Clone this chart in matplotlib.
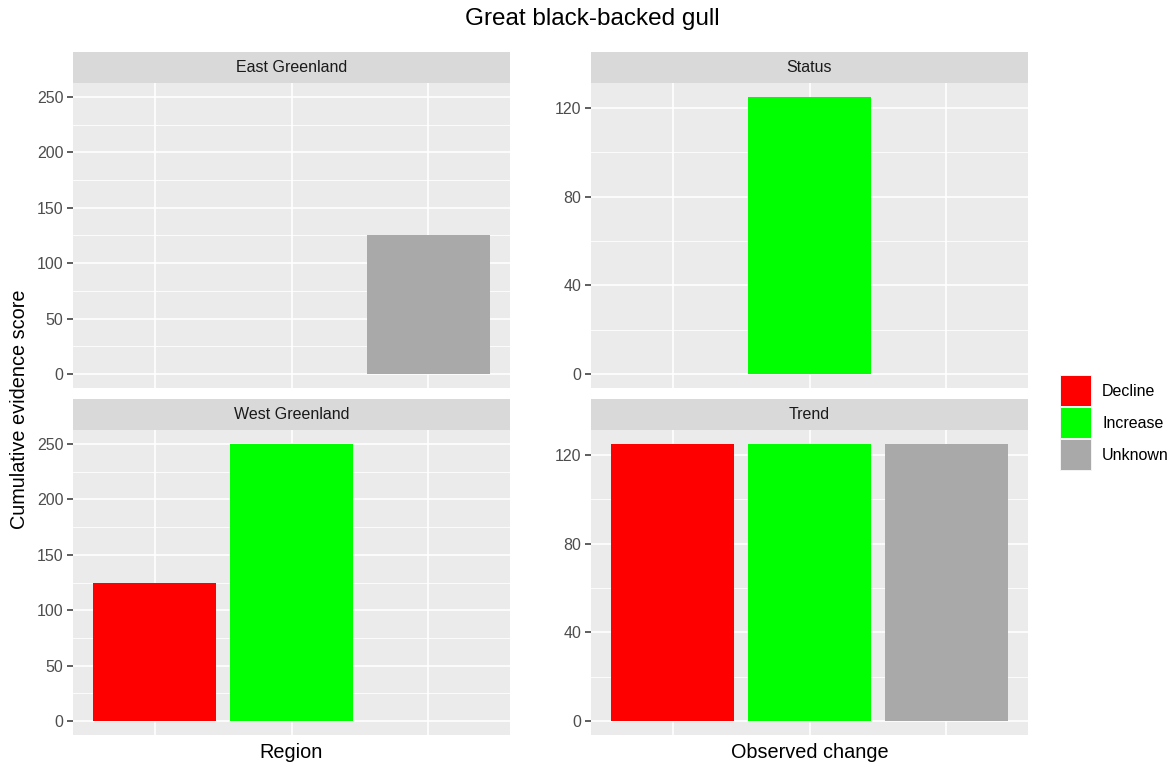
import matplotlib
matplotlib.use("Agg")
import matplotlib.pyplot as plt
from matplotlib.patches import Rectangle
import numpy as np

plt.rcParams['font.family'] = ['Liberation Sans', 'DejaVu Sans']

title = "Great black-backed gull"
categories = ["Decline", "Increase", "Unknown"]
colors = {"Decline": "#FF0000", "Increase": "#00FF00", "Unknown": "#A9A9A9"}

# evidence scores per panel (None = no bar)
east_greenland = [None, None, 125]
west_greenland = [125, 250, None]
status = [None, 125, None]
trend = [125, 125, 125]

region_ticks = [0, 50, 100, 150, 200, 250]
change_ticks = [0, 40, 80, 120]

W, H = 1176, 767
fig = plt.figure(figsize=(W / 100, H / 100), dpi=100)
fig.patch.set_facecolor("white")


def px_axes(x0, y0, x1, y1):
    return fig.add_axes([x0 / W, 1 - y1 / H, (x1 - x0) / W, (y1 - y0) / H])


def panel(x0, y0, x1, y1, label, values, yticks, ymax):
    # strip
    sax = px_axes(x0, y0 - 31, x1, y0)
    sax.set_facecolor("#D9D9D9")
    sax.set_xticks([]); sax.set_yticks([])
    for s in sax.spines.values():
        s.set_visible(False)
    sax.text(0.5, 0.5, label, ha="center", va="center", fontsize=11.5,
             color="#1A1A1A", transform=sax.transAxes)

    ax = px_axes(x0, y0, x1, y1)
    ax.set_facecolor("#EBEBEB")
    for s in ax.spines.values():
        s.set_visible(False)
    ax.set_xlim(0.4, 3.6)
    ax.set_ylim(-0.05 * ymax, 1.05 * ymax)
    ax.set_axisbelow(True)
    ax.set_xticks([1, 2, 3])
    ax.set_xticklabels([])
    ax.tick_params(axis="x", length=0)
    ax.set_yticks(yticks)
    ax.set_yticklabels([str(t) for t in yticks], fontsize=11.5, color="#4D4D4D")
    ax.tick_params(axis="y", length=4, width=1.1, color="#333333", pad=3)
    step = yticks[1] - yticks[0]
    minor = [t + step / 2 for t in yticks if t + step / 2 < 1.05 * ymax]
    ax.set_yticks(minor, minor=True)
    ax.tick_params(axis="y", which="minor", length=0)
    ax.grid(True, which="major", color="white", linewidth=1.2)
    ax.grid(True, which="minor", axis="y", color="white", linewidth=0.6)
    xs, hs, cs = [], [], []
    for i, (cat, v) in enumerate(zip(categories, values)):
        if v is not None:
            xs.append(i + 1); hs.append(v); cs.append(colors[cat])
    ax.bar(xs, hs, width=0.9, color=cs, linewidth=0, zorder=3)
    return ax


panel(73, 83, 510, 388, "East Greenland", east_greenland, region_ticks, 250)
panel(591, 83, 1028, 388, "Status", status, change_ticks, 125)
panel(73, 430, 510, 735, "West Greenland", west_greenland, region_ticks, 250)
panel(591, 430, 1028, 735, "Trend", trend, change_ticks, 125)

fig.text(592 / W, 1 - 19 / H, title, ha="center", va="center", fontsize=17.5, color="black")
fig.text(291.5 / W, 1 - 752 / H, "Region", ha="center", va="center", fontsize=14.3, color="black")
fig.text(809.5 / W, 1 - 752 / H, "Observed change", ha="center", va="center", fontsize=14.3, color="black")
fig.text(20 / W, 1 - 409 / H, "Cumulative evidence score", ha="center", va="center",
         rotation=90, fontsize=14.3, color="black")

# legend
lax = fig.add_axes([0, 0, 1, 1], facecolor="none")
lax.set_xlim(0, W); lax.set_ylim(H, 0)
lax.axis("off")
for i, cat in enumerate(categories):
    top = 376 + 32 * i
    lax.add_patch(Rectangle((1060, top - 1), 32, 32, facecolor="#F2F2F2", edgecolor="none"))
    lax.add_patch(Rectangle((1061, top), 30, 30, facecolor=colors[cat], edgecolor="none"))
    lax.text(1102, top + 15, cat, ha="left", va="center", fontsize=11.5, color="black")

fig.savefig("out.png", dpi=100)
